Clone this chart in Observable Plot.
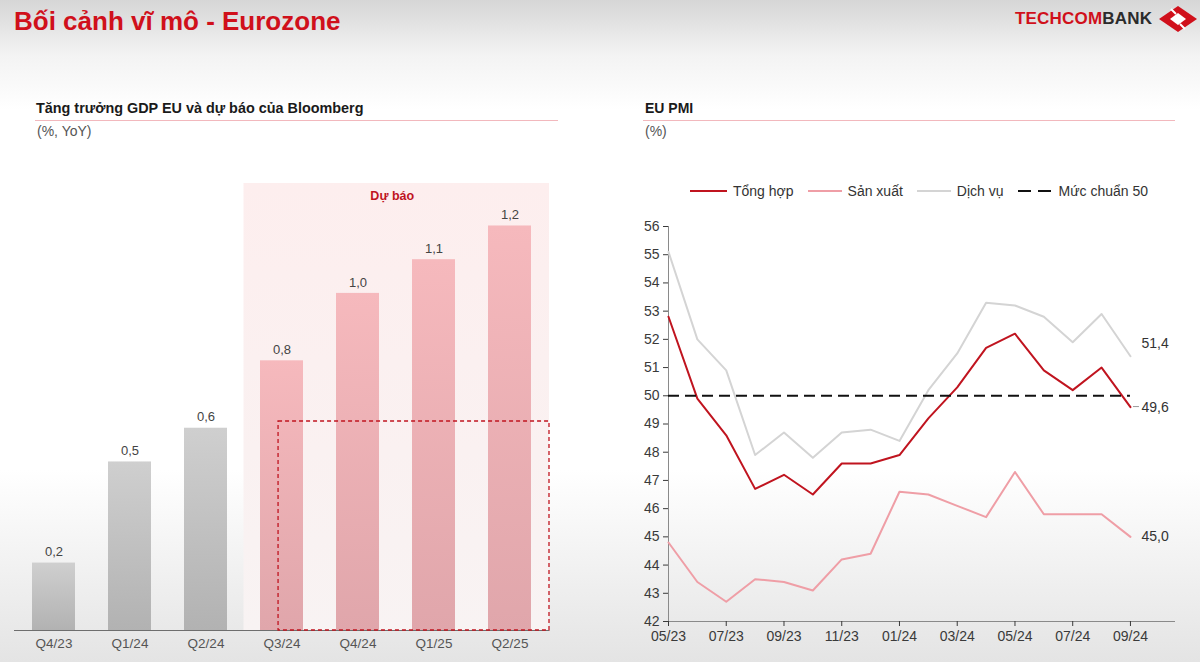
<!DOCTYPE html>
<html>
<head>
<meta charset="utf-8">
<script src="https://cdn.jsdelivr.net/npm/d3@7"></script>
<script src="https://cdn.jsdelivr.net/npm/@observablehq/plot@0.6"></script>
<style>
  html, body { margin: 0; padding: 0; }
  body {
    width: 1200px; height: 662px; overflow: hidden;
    font-family: "Liberation Sans", Arial, sans-serif;
    background: linear-gradient(to bottom, #d6d6d6 0px, #f3f3f3 55px, #ffffff 110px, #ffffff 470px, #e4e4e4 662px);
  }
  #page { position: relative; width: 1200px; height: 662px; }
  .abs { position: absolute; }
  #title { left: 14px; top: 6px; font-size: 26px; font-weight: bold; color: #d0101b; white-space: nowrap; }
  #brand { left: 1015px; top: 9px; font-size: 17px; font-weight: bold; letter-spacing: 0.2px; white-space: nowrap; }
  #brand .r { color: #d0101b; } #brand .k { color: #2b2b2b; }
  .hdr { font-size: 14px; font-weight: bold; color: #1a1a1a; white-space: nowrap; }
  .sub { font-size: 14px; color: #555; white-space: nowrap; }
  .uline { height: 1px; background: #f2b8bd; }
  #legend { left: 690px; top: 183px; display: flex; align-items: center; font-size: 14px; color: #333; white-space: nowrap; }
  #legend .it { display: flex; align-items: center; margin-right: 14px; }
  #legend svg { margin-right: 6px; }
</style>
</head>
<body>
<div id="page">
  <div id="title" class="abs">Bối cảnh vĩ mô - Eurozone</div>
  <div id="brand" class="abs"><span class="r">TECHCOM</span><span class="k">BANK</span></div>
  <svg class="abs" style="left:1159px;top:6px" width="38" height="26" viewBox="0 0 38 26">
    <polygon points="19,0 38,13 19,26 0,13" fill="#d0101b"/>
    <polygon points="19,7 27,13 19,19 11,13" fill="#ffffff"/>
    <line x1="12" y1="3" x2="17" y2="8" stroke="#fff" stroke-width="2"/>
    <line x1="26" y1="23" x2="21" y2="18" stroke="#fff" stroke-width="2"/>
  </svg>

  <div class="abs hdr" style="left:36px;top:100px;font-size:14.4px">Tăng trưởng GDP EU và dự báo của Bloomberg</div>
  <div class="abs uline" style="left:35px;top:120px;width:523px"></div>
  <div class="abs sub" style="left:37px;top:123px">(%, YoY)</div>

  <div class="abs hdr" style="left:645px;top:100px">EU PMI</div>
  <div class="abs uline" style="left:643px;top:120px;width:532px"></div>
  <div class="abs sub" style="left:645px;top:123px">(%)</div>

  <div id="legend" class="abs"></div>
  <div id="gdp" class="abs" style="left:0px;top:183px"></div>
  <div id="pmi" class="abs" style="left:600px;top:210px"></div>
</div>
<script>
// ---------- Data ----------
const gdpQuarters = ["Q4/23", "Q1/24", "Q2/24", "Q3/24", "Q4/24", "Q1/25", "Q2/25"];
const gdpValues   = [0.2, 0.5, 0.6, 0.8, 1.0, 1.1, 1.2];
const gdpForecast = [false, false, false, true, true, true, true];
const forecastLabel = "Dự báo";
const highlightLevel = 0.62;

const pmiMonths = ["05/23","06/23","07/23","08/23","09/23","10/23","11/23","12/23","01/24","02/24","03/24","04/24","05/24","06/24","07/24","08/24","09/24"];
const composite     = [52.8, 49.9, 48.6, 46.7, 47.2, 46.5, 47.6, 47.6, 47.9, 49.2, 50.3, 51.7, 52.2, 50.9, 50.2, 51.0, 49.6];
const manufacturing = [44.8, 43.4, 42.7, 43.5, 43.4, 43.1, 44.2, 44.4, 46.6, 46.5, 46.1, 45.7, 47.3, 45.8, 45.8, 45.8, 45.0];
const services      = [55.1, 52.0, 50.9, 47.9, 48.7, 47.8, 48.7, 48.8, 48.4, 50.2, 51.5, 53.3, 53.2, 52.8, 51.9, 52.9, 51.4];
const benchmark = 50;
const seriesNames = ["Tổng hợp", "Sản xuất", "Dịch vụ", "Mức chuẩn 50"];

// ---------- Helpers ----------
const fmt1 = v => d3.format(".1f")(v).replace(".", ",");
const FONT = "Liberation Sans, Arial, sans-serif";
const cRed = "#c0141f", cPink = "#ef9ea6", cGray = "#d4d4d4";

// ---------- GDP bar chart ----------
const gdpRows = gdpQuarters.map((q, i) => ({q, v: gdpValues[i], f: gdpForecast[i]}));
const gdp = Plot.plot({
  width: 560, height: 477,
  marginLeft: 14, marginRight: 11, marginTop: 0, marginBottom: 30,
  style: {background: "transparent", fontFamily: FONT, overflow: "visible"},
  x: {domain: gdpQuarters, paddingInner: 0.44, paddingOuter: 0.22, label: null},
  y: {domain: [0, 1.326], axis: null},
  marks: [
    Plot.barY(gdpRows.filter(d => !d.f), {x: "q", y: "v", fill: "url(#gGray)"}),
    Plot.barY(gdpRows.filter(d => d.f), {x: "q", y: "v", fill: "url(#gPink)"}),
    Plot.ruleY([0], {stroke: "#6e6e6e", strokeWidth: 1.2}),
    Plot.text(gdpRows, {x: "q", y: "v", text: d => fmt1(d.v), dy: -11, fontSize: 13, fill: "#444"}),
    Plot.axisX({tickSize: 0, tickPadding: 8, fontSize: 13.5, color: "#555", label: null})
  ]
});
document.getElementById("gdp").appendChild(gdp);
{
  const svg = d3.select(gdp);
  const defs = svg.insert("defs", ":first-child");
  const mk = (id, c0, c1) => {
    const g = defs.append("linearGradient").attr("id", id).attr("x1", 0).attr("y1", 0).attr("x2", 0).attr("y2", 1);
    g.append("stop").attr("offset", "0%").attr("stop-color", c0);
    g.append("stop").attr("offset", "100%").attr("stop-color", c1);
  };
  mk("gGray", "#cfcfcf", "#b2b2b2");
  mk("gPink", "#f6b9bd", "#e0a6ab");
  mk("gBg", "#fdeeee", "#f8f3f3");
  const xs = gdp.scale("x"), ys = gdp.scale("y");
  const first = gdpQuarters[gdpForecast.indexOf(true)];
  const gap = xs.step - xs.bandwidth;
  const left = xs.apply(first) - gap / 2;
  const right = xs.range[1];
  const top = ys.apply(ys.domain[1]);
  const bottom = ys.apply(0);
  svg.insert("rect", "defs + *")
    .attr("x", left).attr("y", top).attr("width", right - left).attr("height", bottom - top)
    .attr("fill", "url(#gBg)");
  svg.append("text").attr("x", (left + right) / 2 - 4).attr("y", top + 14)
    .attr("text-anchor", "middle").attr("dominant-baseline", "middle")
    .attr("font-size", 12.5).attr("font-weight", "bold").attr("fill", "#c0141f").text(forecastLabel);
  const hx = xs.apply(first) + xs.bandwidth * 0.42;
  const hy = ys.apply(highlightLevel);
  svg.append("rect").attr("x", hx).attr("y", hy).attr("width", right - hx).attr("height", bottom - hy)
    .attr("fill", "none").attr("stroke", "#c0141f").attr("stroke-width", 1.3).attr("stroke-dasharray", "4,3");
}

// ---------- PMI line chart ----------
const idx = pmiMonths.map((m, i) => i);
const last = pmiMonths.length - 1;
const pmi = Plot.plot({
  width: 600, height: 441,
  marginLeft: 68, marginRight: 25, marginTop: 16, marginBottom: 30,
  style: {background: "transparent", fontFamily: FONT, overflow: "visible"},
  x: {domain: [0, 17.56], label: null},
  y: {domain: [42, 56], label: null},
  marks: [
    Plot.ruleX([0], {stroke: "#8a8a8a"}),
    Plot.ruleY([42], {stroke: "#8a8a8a"}),
    Plot.axisY({ticks: d3.range(42, 57), tickSize: 5, tickPadding: 4, fontSize: 14, color: "#3a3a3a", tickFormat: d => d, label: null}),
    Plot.axisX({ticks: d3.range(0, pmiMonths.length, 2), tickFormat: i => pmiMonths[i], tickSize: 5, tickPadding: 5, fontSize: 14, color: "#3a3a3a", label: null}),
    Plot.line(idx, {x: i => i, y: i => services[i], stroke: cGray, strokeWidth: 2}),
    Plot.line(idx, {x: i => i, y: i => manufacturing[i], stroke: cPink, strokeWidth: 2}),
    Plot.line(idx, {x: i => i, y: i => composite[i], stroke: cRed, strokeWidth: 2}),
    Plot.ruleY([benchmark], {x1: 0, x2: last, stroke: "#111", strokeWidth: 2, strokeDasharray: "11,6"}),
    Plot.text([last], {x: i => i, y: i => services[i], text: i => fmt1(services[i]), dx: 11, dy: -13, textAnchor: "start", fontSize: 14, fill: "#333"}),
    Plot.text([last], {x: i => i, y: i => composite[i], text: i => fmt1(composite[i]), dx: 11, dy: 0, textAnchor: "start", fontSize: 14, fill: "#333"}),
    Plot.text([last], {x: i => i, y: i => manufacturing[i], text: i => fmt1(manufacturing[i]), dx: 11, dy: 0, textAnchor: "start", fontSize: 14, fill: "#333"})
  ]
});
document.getElementById("pmi").appendChild(pmi);
{
  const xs = pmi.scale("x"), ys = pmi.scale("y");
  const x0 = xs.apply(last), y0 = ys.apply(composite[last]);
  d3.select(pmi).append("line").attr("x1", x0 + 3).attr("x2", x0 + 9).attr("y1", y0).attr("y2", y0)
    .attr("stroke", "#999").attr("stroke-width", 1);
}

// ---------- Legend ----------
const legendItems = [
  {name: seriesNames[0], color: cRed, dash: null, w: 37},
  {name: seriesNames[1], color: cPink, dash: null, w: 34},
  {name: seriesNames[2], color: cGray, dash: null, w: 34},
  {name: seriesNames[3], color: "#111", dash: "13,7", w: 35}
];
const leg = d3.select("#legend");
legendItems.forEach(it => {
  const d = leg.append("div").attr("class", "it");
  const s = d.append("svg").attr("width", it.w).attr("height", 4);
  s.append("line").attr("x1", 0).attr("x2", it.w).attr("y1", 2).attr("y2", 2)
    .attr("stroke", it.color).attr("stroke-width", 2).attr("stroke-dasharray", it.dash);
  d.append("span").text(it.name);
});
</script>
</body>
</html>
